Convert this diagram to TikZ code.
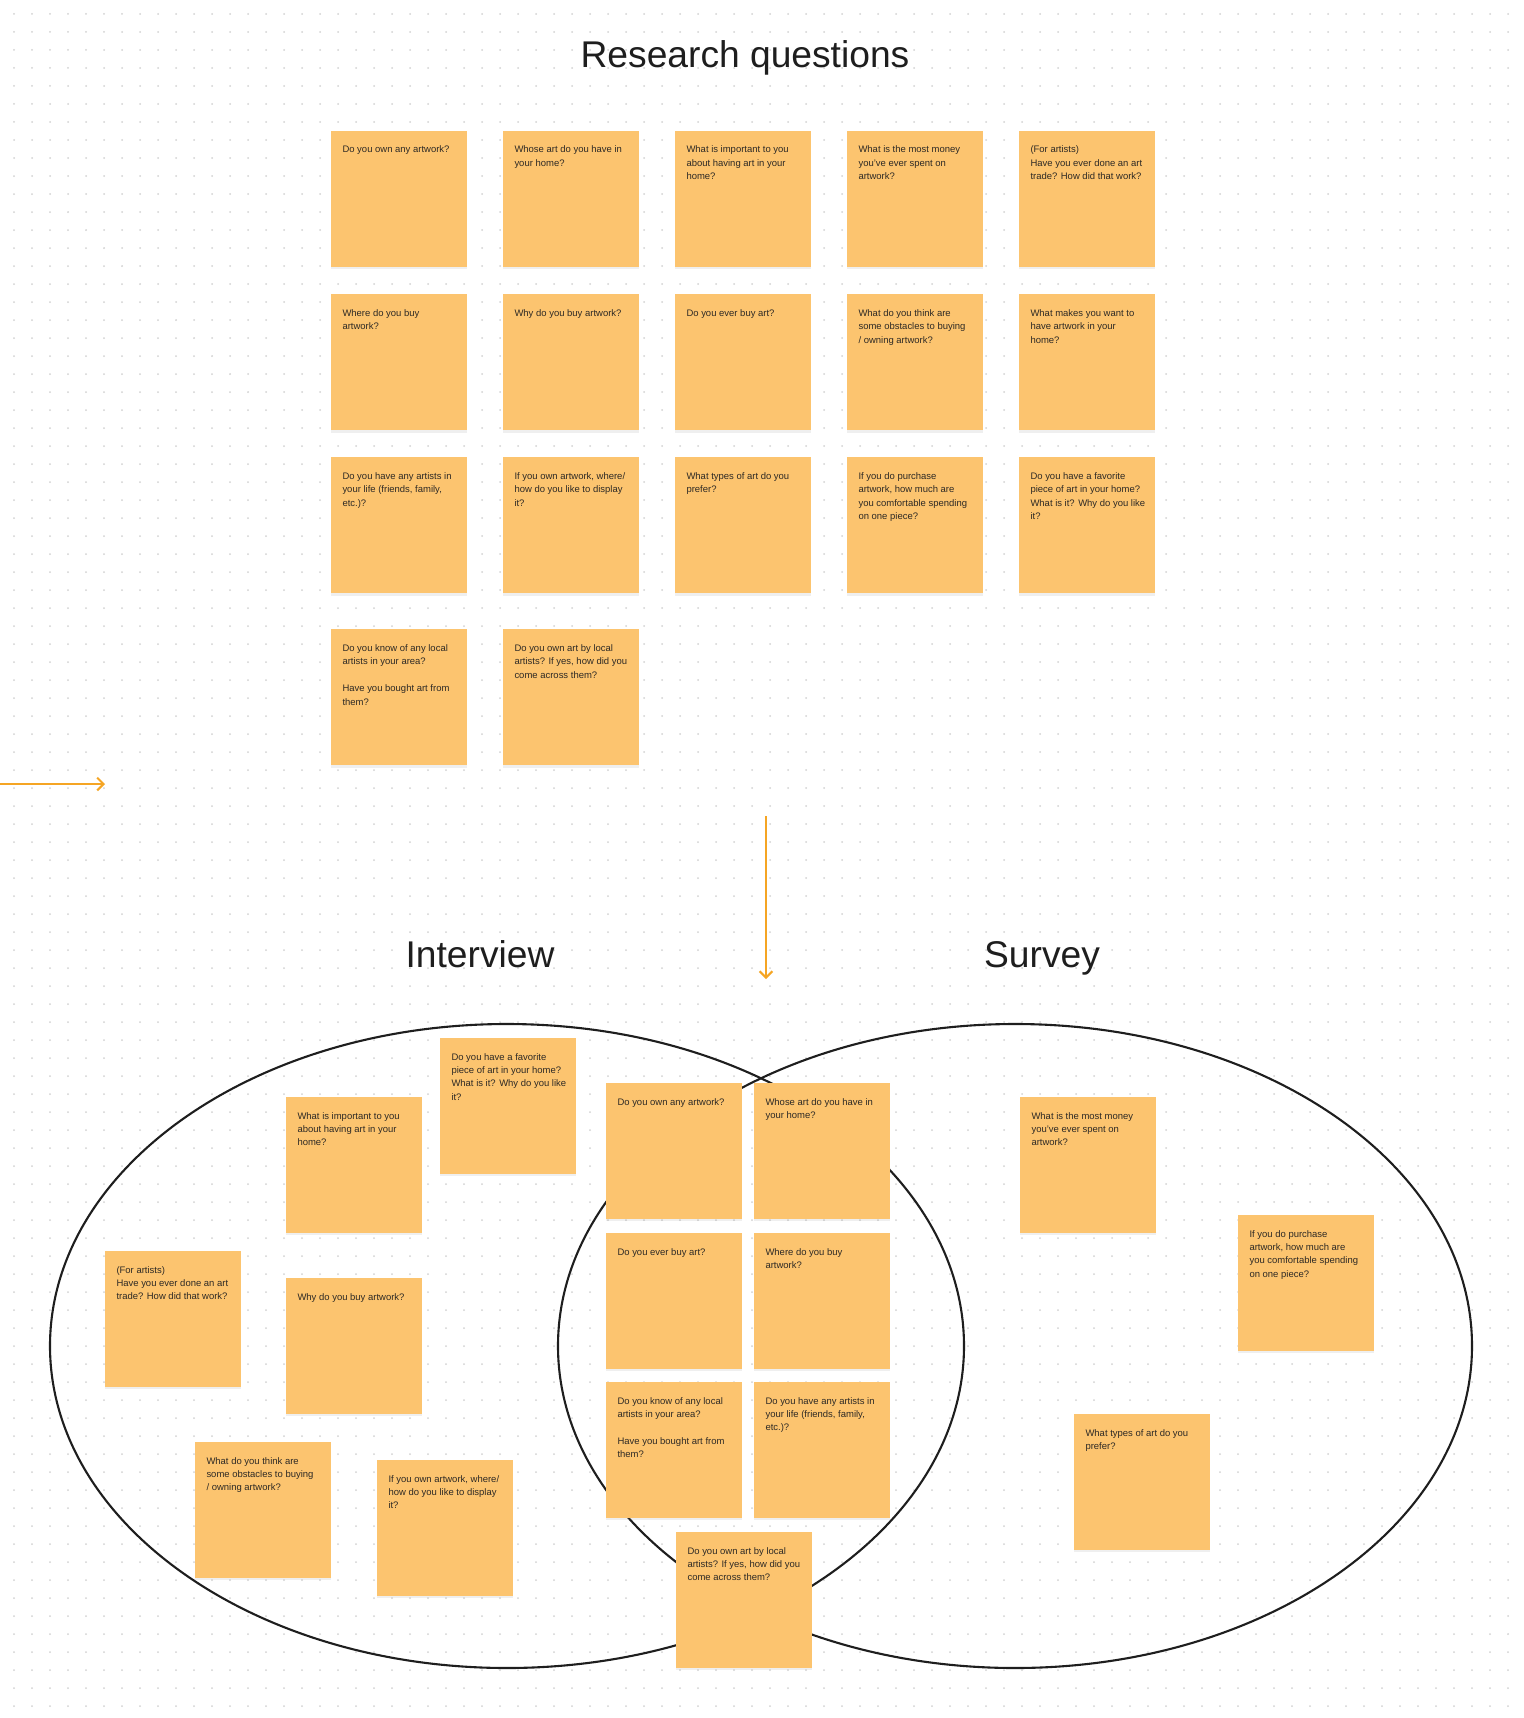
\documentclass[tikz,border=0pt]{standalone}
\usepackage{fontspec}
\setmainfont{Liberation Sans}
\usepackage{xcolor}
\usepackage{tikz}
\usetikzlibrary{arrows.meta,positioning,shapes.geometric,shadows}
\definecolor{titleink}{HTML}{1E1E1E}
\definecolor{noteink}{HTML}{2E2A25}
\definecolor{notefill}{HTML}{FCC46F}
\definecolor{flow}{HTML}{F5A524}
\definecolor{dotgray}{HTML}{D2D2D2}
\definecolor{outline}{HTML}{1E1E1E}
\tikzset{
  heading/.style={font=\fontsize{18.6pt}{22pt}\selectfont, text=titleink, inner sep=0pt, anchor=base},
  sticky/.style={
    anchor=north west,
    fill=notefill,
    text=noteink,
    inner sep=0pt,
    outer sep=0pt,
    minimum width=68pt,
    minimum height=68pt,
    font=\fontsize{4.74pt}{6.7pt}\selectfont,
    drop shadow={shadow xshift=0pt, shadow yshift=-1.2pt, opacity=0.12},
    execute at begin node={\begin{minipage}[t][68pt][t]{68pt}\leftskip=5.75pt\rightskip=0pt plus 1fil\parindent=0pt\rule{0pt}{11pt}\ignorespaces},
    execute at end node={\end{minipage}}
  },
  vennset/.style={ellipse, draw=outline, line width=1.05pt, minimum width=457pt, minimum height=322pt, inner sep=0pt},
  flowarrow/.style={-{Straight Barb[length=3.2pt,width=6.4pt]}, draw=flow, line width=1pt},
  dotrow/.style={draw=dotgray, line width=1pt, line cap=round, dash pattern=on 0pt off 9pt}
}

\begin{document}
\begin{tikzpicture}[x=0.5pt, y=-0.5pt, node distance=13.6pt and 18pt]
  \useasboundingbox (0,0) rectangle (1524,1718);
  \fill[white] (0,0) rectangle (1524,1718);
  % dot grid
  \foreach \row in {0,...,94}
    \draw[dotrow] (14,{14+18*\row}) -- (1524,{14+18*\row});

  \node[heading] (rqtitle) at (745,68) {Research questions};

  % question pool
  \node[sticky] (ownq) at (331,131) {Do you own any artwork?};
  \node[sticky, right=of ownq] (whoseq) {Whose art do you have in\\your home?};
  \node[sticky, right=of whoseq] (importq) {What is important to you\\about having art in your\\home?};
  \node[sticky, right=of importq] (moneyq) {What is the most money\\you've ever spent on\\artwork?};
  \node[sticky, right=of moneyq] (tradeq) {(For artists)\\Have you ever done an art\\trade? How did that work?};

  \node[sticky, below=of ownq] (whereq) {Where do you buy\\artwork?};
  \node[sticky, right=of whereq] (whyq) {Why do you buy artwork?};
  \node[sticky, right=of whyq] (everq) {Do you ever buy art?};
  \node[sticky, right=of everq] (obstacleq) {What do you think are\\some obstacles to buying\\/ owning artwork?};
  \node[sticky, right=of obstacleq] (wantq) {What makes you want to\\have artwork in your\\home?};

  \node[sticky, below=of whereq] (circleq) {Do you have any artists in\\your life (friends, family,\\etc.)?};
  \node[sticky, right=of circleq] (displayq) {If you own artwork, where/\\how do you like to display\\it?};
  \node[sticky, right=of displayq] (typesq) {What types of art do you\\prefer?};
  \node[sticky, right=of typesq] (spendq) {If you do purchase\\artwork, how much are\\you comfortable spending\\on one piece?};
  \node[sticky, right=of spendq] (favq) {Do you have a favorite\\piece of art in your home?\\What is it? Why do you like\\it?};

  \node[sticky, below=18pt of circleq] (localq) {Do you know of any local\\artists in your area?\\[6.7pt]Have you bought art from\\them?};
  \node[sticky, right=of localq] (localownq) {Do you own art by local\\artists? If yes, how did you\\come across them?};

  \coordinate (feedin) at (0,784);
  \coordinate (feedtip) at (105,784);
  \draw[flowarrow] (feedin) -- (feedtip);
  \coordinate (splittop) at (766,816);
  \coordinate (splittip) at (766,979);
  \draw[flowarrow] (splittop) -- (splittip);

  \node[heading] (ivtitle) at (480,967) {Interview};
  \node[heading] (svtitle) at (1042,967) {Survey};

  % sorting
  \node[vennset] (ivset) at (507,1346) {};
  \node[vennset] (svset) at (1015,1346) {};

  \node[sticky] (ivfav) at (440,1038) {Do you have a favorite\\piece of art in your home?\\What is it? Why do you like\\it?};
  \node[sticky] (ivimport) at (286,1097) {What is important to you\\about having art in your\\home?};
  \node[sticky] (ivtrade) at (105,1251) {(For artists)\\Have you ever done an art\\trade? How did that work?};
  \node[sticky] (ivwhy) at (286,1278) {Why do you buy artwork?};
  \node[sticky] (ivobstacle) at (195,1442) {What do you think are\\some obstacles to buying\\/ owning artwork?};
  \node[sticky] (ivdisplay) at (377,1460) {If you own artwork, where/\\how do you like to display\\it?};

  \node[sticky] (bothown) at (606,1083) {Do you own any artwork?};
  \node[sticky] (bothwhose) at (754,1083) {Whose art do you have in\\your home?};
  \node[sticky] (bothever) at (606,1233) {Do you ever buy art?};
  \node[sticky] (bothwhere) at (754,1233) {Where do you buy\\artwork?};
  \node[sticky] (bothlocal) at (606,1382) {Do you know of any local\\artists in your area?\\[6.7pt]Have you bought art from\\them?};
  \node[sticky] (bothcircle) at (754,1382) {Do you have any artists in\\your life (friends, family,\\etc.)?};
  \node[sticky] (bothlocalown) at (676,1532) {Do you own art by local\\artists? If yes, how did you\\come across them?};

  \node[sticky] (svmoney) at (1020,1097) {What is the most money\\you've ever spent on\\artwork?};
  \node[sticky] (svspend) at (1238,1215) {If you do purchase\\artwork, how much are\\you comfortable spending\\on one piece?};
  \node[sticky] (svtypes) at (1074,1414) {What types of art do you\\prefer?};
\end{tikzpicture}
\end{document}
